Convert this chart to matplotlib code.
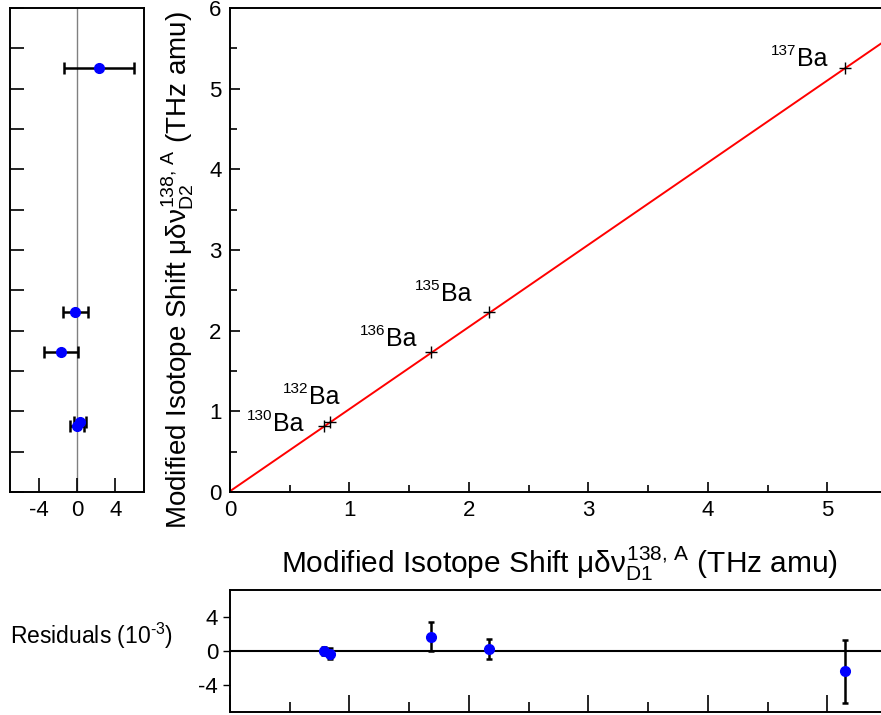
import numpy as np
import matplotlib
matplotlib.use("Agg")
import matplotlib.pyplot as plt
from matplotlib.ticker import MultipleLocator

plt.rcParams['font.family'] = ['Liberation Sans', 'DejaVu Sans']
plt.rcParams['mathtext.fontset'] = 'custom'
plt.rcParams['mathtext.rm'] = 'Liberation Sans'
plt.rcParams['mathtext.it'] = 'Liberation Sans'
plt.rcParams['axes.unicode_minus'] = False

# isotope data
isotopes = ['130', '132', '136', '135', '137']
shift_d1 = [0.786, 0.84, 1.68, 2.17, 5.15]
shift_d2 = [0.82, 0.87, 1.73, 2.23, 5.26]

# residuals (1e-3)
resid_d2 = [0.0, 0.3, -1.7, -0.2, 2.3]
resid_d2_err = [0.7, 0.6, 1.8, 1.3, 3.65]
resid_d1 = [0.0, -0.3, 1.7, 0.2, -2.4]
resid_d1_err = [0.5, 0.6, 1.7, 1.2, 3.7]

# linear fit endpoints
fit_x = [0.0, 5.5]
fit_y = [0.01, 5.61]

# where each "Ba" label starts (data coords, baseline)
label_pos = {'130': (0.36, 0.76), '132': (0.66, 1.09), '136': (1.31, 1.81),
             '135': (1.766, 2.37), '137': (4.75, 5.28)}

fig = plt.figure(figsize=(8.81, 7.15), dpi=100)
W, H = 881, 715

def box(l, t, r, b):
    return [l / W, 1 - b / H, (r - l) / W, (b - t) / H]

ax = fig.add_axes(box(230, 8, 881, 492))
axl = fig.add_axes(box(10, 8, 144, 492), sharey=ax)
axb = fig.add_axes(box(230, 590, 881, 712), sharex=ax)

# main panel
ax.plot(fit_x, fit_y, color='red', lw=1.4, zorder=1)
ax.plot(shift_d1, shift_d2, '+', color='black', ms=9, mew=1.0, zorder=2)
for iso in isotopes:
    x, y = label_pos[iso]
    ax.text(x, y, 'Ba', fontsize=18, ha='left', va='baseline')
    ax.annotate(iso, xy=(x, y), xytext=(-0.5, 8), textcoords='offset points',
                fontsize=11, ha='right', va='baseline')
ax.set_xlim(0, 5.45)
ax.set_ylim(0, 6)
ax.xaxis.set_major_locator(MultipleLocator(1))
ax.xaxis.set_minor_locator(MultipleLocator(0.5))
ax.yaxis.set_major_locator(MultipleLocator(1))
ax.yaxis.set_minor_locator(MultipleLocator(0.5))
ax.tick_params(which='both', direction='in', labelsize=16, top=False, right=False, width=1.2)
ax.tick_params(which='major', length=7, pad=6)
ax.tick_params(which='minor', length=5)
ax.spines['right'].set_visible(False)
for s in ['left', 'bottom', 'top']:
    ax.spines[s].set_linewidth(1.4)
ax.set_xlabel(r'Modified Isotope Shift $\mu\delta\nu_{\rm D1}^{\rm 138,\,A}$ (THz amu)', fontsize=21.5)
ax.xaxis.set_label_coords((560 - 230) / 651, -(544 - 492) / 484)
ax.set_ylabel(r'Modified Isotope Shift $\mu\delta\nu_{\rm D2}^{\rm 138,\,A}$ (THz amu)', fontsize=20)
ax.yaxis.set_label_coords(-(230 - 196) / 651, (492 - 270) / 484)

# left residual panel
axl.axvline(0, color='gray', lw=1.0, zorder=0)
axl.errorbar(resid_d2, shift_d2, xerr=resid_d2_err, fmt='o', color='blue',
             ms=7, ecolor='black', elinewidth=1.8, capsize=4, capthick=1.8)
axl.set_xlim(-7, 7)
axl.set_xticks([-4, 0, 4])
axl.tick_params(which='both', direction='in', labelsize=16, labelleft=False, width=1.2)
axl.tick_params(which='major', length=10, pad=6)
axl.tick_params(which='minor', length=10)
for s in axl.spines.values():
    s.set_linewidth(1.4)

# bottom residual panel
axb.axhline(0, color='black', lw=1.5, zorder=0)
axb.errorbar(shift_d1, resid_d1, yerr=resid_d1_err, fmt='o', color='blue',
             ms=7, ecolor='black', elinewidth=1.8, capsize=2.5, capthick=1.8)
axb.set_ylim(-7.2, 7.2)
axb.set_yticks([-4, 0, 4])
axb.tick_params(axis='y', direction='out', length=5, labelsize=16, width=1.0)
axb.tick_params(axis='x', which='both', direction='in', labelbottom=False, width=1.2)
axb.tick_params(axis='x', which='major', length=12)
axb.tick_params(axis='x', which='minor', length=7)
axb.spines['right'].set_visible(False)
for s in ['left', 'bottom', 'top']:
    axb.spines[s].set_linewidth(1.4)
fig.text(10 / W, 1 - 636 / H, 'Residuals (10$^{\u20103}$)', fontsize=16.5, ha='left', va='center')

fig.savefig('out.png', dpi=100)
